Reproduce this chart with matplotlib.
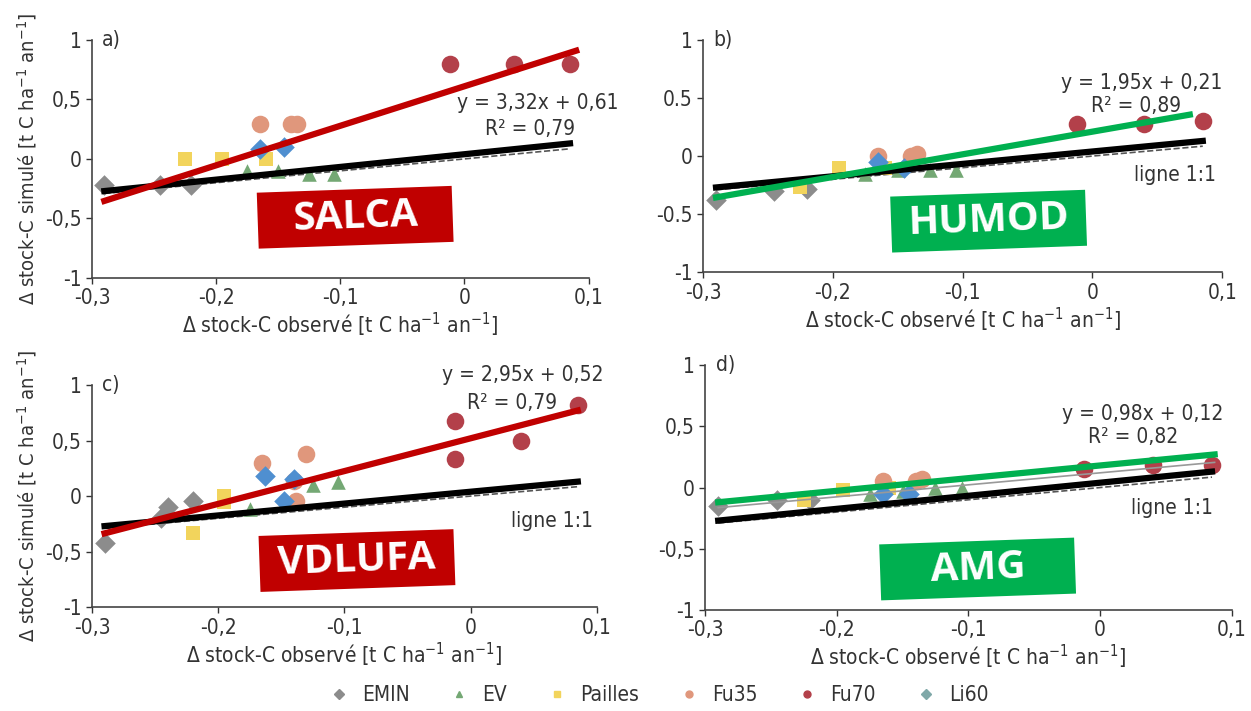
import matplotlib.pyplot as plt
from matplotlib.patches import Rectangle
from matplotlib.transforms import Affine2D
import numpy as np

plt.rcParams['font.family'] = ['DejaVu Sans']
plt.rcParams['font.stretch'] = 'condensed'

# Données (x = observé, y = simulé)
groups = ['EMIN', 'EV', 'Pailles', 'Fu35', 'Fu70', 'Li60']
colors = {'EMIN': '#8c8c8c', 'EV': '#74a874', 'Pailles': '#f2d45c',
          'Fu35': '#e0977c', 'Fu70': '#b3404a', 'Li60': '#4f8fd0'}
markers = {'EMIN': 'D', 'EV': '^', 'Pailles': 's', 'Fu35': 'o', 'Fu70': 'o', 'Li60': 'D'}

obs = {
    'EMIN': [-0.29, -0.245, -0.22],
    'EV': [-0.175, -0.15, -0.125, -0.105],
    'Pailles': [-0.225, -0.195, -0.16],
    'Fu35': [-0.165, -0.14, -0.135],
    'Fu70': [-0.012, 0.04, 0.085],
    'Li60': [-0.165, -0.145],
}
sim_a = {
    'EMIN': [-0.22, -0.22, -0.22],
    'EV': [-0.1, -0.1, -0.13, -0.13],
    'Pailles': [0.0, 0.0, 0.0],
    'Fu35': [0.29, 0.29, 0.29],
    'Fu70': [0.8, 0.8, 0.8],
    'Li60': [0.08, 0.1],
}
sim_b = {
    'EMIN': [-0.38, -0.3, -0.28],
    'EV': [-0.15, -0.12, -0.12, -0.12],
    'Pailles': [-0.27, -0.1, -0.1],
    'Fu35': [0.0, 0.0, 0.02],
    'Fu70': [0.28, 0.28, 0.3],
    'Li60': [-0.05, -0.1],
}
obs_c = {
    'EMIN': [-0.29, -0.245, -0.24, -0.22],
    'EV': [-0.175, -0.125, -0.105],
    'Pailles': [-0.22, -0.195, -0.195],
    'Fu35': [-0.165, -0.13, -0.14, -0.138],
    'Fu70': [-0.012, -0.012, 0.04, 0.085],
    'Li60': [-0.163, -0.148, -0.14],
}
sim_c = {
    'EMIN': [-0.42, -0.2, -0.1, -0.04],
    'EV': [-0.12, 0.1, 0.13],
    'Pailles': [-0.33, 0.0, -0.05],
    'Fu35': [0.3, 0.38, 0.14, -0.04],
    'Fu70': [0.68, 0.33, 0.5, 0.82],
    'Li60': [0.18, -0.04, 0.15],
}
sim_d = {
    'EMIN': [-0.15, -0.1, -0.1],
    'EV': [-0.05, -0.03, 0.0, 0.0],
    'Pailles': [-0.1, -0.02, 0.0],
    'Fu35': [0.05, 0.05, 0.07],
    'Fu70': [0.15, 0.18, 0.18],
    'Li60': [-0.05, -0.05],
}

# régressions (pente, ordonnée, R²)
fits = {'a': (3.32, 0.61, 0.79), 'b': (1.95, 0.21, 0.89),
        'c': (2.95, 0.52, 0.79), 'd': (0.98, 0.12, 0.82)}
fit_x = {'a': [-0.29, 0.09], 'b': [-0.29, 0.075], 'c': [-0.29, 0.085], 'd': [-0.29, 0.087]}
# ligne 1:1 redessinée en trait épais
black_x = [-0.29, 0.085]
black_y = [-0.27, 0.13]
# trait vert redessiné sur le panneau d
green_d_y = [-0.12, 0.27]

models = {'a': 'SALCA', 'b': 'HUMOD', 'c': 'VDLUFA', 'd': 'AMG'}
box_col = {'a': '#c00000', 'b': '#00b050', 'c': '#c00000', 'd': '#00b050'}
box_pos = {'a': (-0.088, -0.49), 'b': (-0.08, -0.56), 'c': (-0.09, -0.58), 'd': (-0.093, -0.665)}

# position des équations : (x droite, y éq., x droite R², y R²)
eq_pos = {'a': (0.124, 0.47, 0.089, 0.25), 'b': (0.1, 0.63, 0.068, 0.43),
          'c': (0.105, 1.09, 0.069, 0.84), 'd': (0.094, 0.6, 0.059, 0.41)}
ligne_pos = {'b': (0.095, -0.16), 'c': (0.097, -0.22), 'd': (0.086, -0.17)}

fig = plt.figure(figsize=(12.51, 7.11), dpi=100)
pos = {'a': [0.0735, 0.609, 0.397, 0.335], 'b': [0.562, 0.617, 0.415, 0.327],
       'c': [0.0735, 0.146, 0.4035, 0.3125], 'd': [0.5636, 0.142, 0.421, 0.3446]}
obs_all = {'a': obs, 'b': obs, 'c': obs_c, 'd': obs}
sim_all = {'a': sim_a, 'b': sim_b, 'c': sim_c, 'd': sim_d}

ylab = 'Δ stock-C simulé [t C ha$^{-1}$ an$^{-1}$]'
xlab = 'Δ stock-C observé [t C ha$^{-1}$ an$^{-1}$]'
txtcol = '#333333'

for k in ['a', 'b', 'c', 'd']:
    ax = fig.add_axes(pos[k])
    for g in groups:
        ax.scatter(obs_all[k][g], sim_all[k][g], marker=markers[g], color=colors[g],
                   s=160 if markers[g] == 'o' else 110, zorder=3, linewidths=0, label=g)
    xs = np.array(black_x)
    ax.plot(xs, xs, '--', color='#555555', lw=1.2, zorder=2)
    ax.plot(black_x, black_y, color='black', lw=4.5, zorder=4)
    s, b, r2 = fits[k]
    fx = np.array(fit_x[k])
    if k == 'd':
        ax.plot(fx, s * fx + b, color='#999999', lw=1.2, zorder=4)
        ax.plot(fx, green_d_y, color=box_col[k], lw=4.5, zorder=5)
    else:
        ax.plot(fx, s * fx + b, color=box_col[k], lw=4.5, zorder=5)

    ax.set_xlim(-0.3, 0.1)
    ax.set_ylim(-1, 1)
    ax.set_xticks([-0.3, -0.2, -0.1, 0, 0.1])
    ax.set_xticklabels(['-0,3', '-0,2', '-0,1', '0', '0,1'])
    ax.set_yticks([-1, -0.5, 0, 0.5, 1])
    if k == 'b':
        ax.set_yticklabels(['-1', '-0.5', '0', '0.5', '1'])
    else:
        ax.set_yticklabels(['-1', '-0,5', '0', '0,5', '1'])
    ax.tick_params(labelsize=15, colors=txtcol, length=4, width=1)
    for sp in ['top', 'right']:
        ax.spines[sp].set_visible(False)
    for sp in ['left', 'bottom']:
        ax.spines[sp].set_color('#444444')
        ax.spines[sp].set_linewidth(1.2)
    ax.set_xlabel(xlab, fontsize=15, color=txtcol, labelpad=2)
    if k in ('a', 'c'):
        ax.set_ylabel(ylab, fontsize=14.5, color=txtcol, labelpad=4)
    ax.text(-0.292, 1.0, k + ')', fontsize=15, color=txtcol, va='center')

    eq = 'y = %sx + %s' % (('%.2f' % s).replace('.', ','), ('%.2f' % b).replace('.', ','))
    r2t = 'R² = %s' % ('%.2f' % r2).replace('.', ',')
    ex, ey, rx, ry = eq_pos[k]
    ax.text(ex, ey, eq, fontsize=15, color=txtcol, ha='right', va='center', clip_on=False)
    ax.text(rx, ry, r2t, fontsize=15, color=txtcol, ha='right', va='center')
    if k in ligne_pos:
        lx, ly = ligne_pos[k]
        ax.text(lx, ly, 'ligne 1:1', fontsize=15, color=txtcol, ha='right', va='center')

    # encadré du nom du modèle, légèrement incliné
    bx, by = box_pos[k]
    cx, cy = ax.transData.transform((bx, by))
    w, h = 195, 56
    rect = Rectangle((cx - w / 2, cy - h / 2), w, h, fc=box_col[k], ec='none', zorder=6,
                     transform=Affine2D().rotate_deg_around(cx, cy, 2), clip_on=False)
    ax.add_patch(rect)
    ax.text(bx, by, models[k], fontsize=29, fontweight='bold', color='white',
            family=['Open Sans', 'DejaVu Sans'], stretch='normal', ha='center', va='center',
            rotation=2, zorder=7)

handles = [plt.Line2D([], [], marker=markers[g], ls='none', color=colors[g] if g != 'Li60' else '#7fa8a8',
                      markersize=5) for g in groups]
fig.legend(handles, groups, loc='center', bbox_to_anchor=(0.522, 0.022), ncol=6,
           frameon=False, fontsize=15, handletextpad=0.1, columnspacing=1.4,
           labelcolor=txtcol)

fig.savefig('out.png', dpi=100, facecolor='white')
